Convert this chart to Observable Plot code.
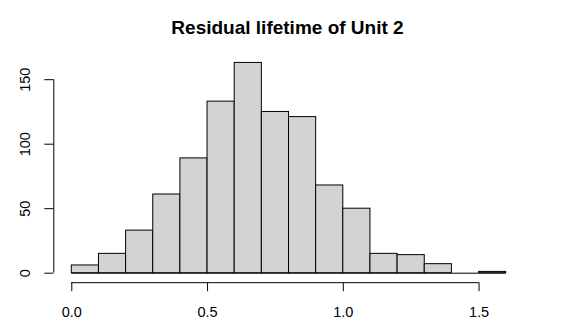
<!DOCTYPE html>
<html>
<head>
<meta charset="utf-8">
<script src="https://cdn.jsdelivr.net/npm/d3@7"></script>
<script src="https://cdn.jsdelivr.net/npm/@observablehq/plot@0.6"></script>
<style>
  html, body { margin: 0; padding: 0; background: #fff; }
  #wrap { position: relative; width: 577px; height: 336px; font-family: "Liberation Sans", Arial, sans-serif; }
  #title { position: absolute; left: 0; top: 16px; width: 575px; text-align: center; font-weight: bold; font-size: 19px; color: #000; line-height: 24px; }
</style>
</head>
<body>
<div id="wrap"><div id="title">Residual lifetime of Unit 2</div></div>
<script>
const binStarts = [0.0, 0.1, 0.2, 0.3, 0.4, 0.5, 0.6, 0.7, 0.8, 0.9, 1.0, 1.1, 1.2, 1.3, 1.4, 1.5];
const counts    = [6, 15, 33, 61, 89, 133, 163, 125, 121, 68, 50, 15, 14, 7, 0, 1];
const binWidth = 0.1;
const xTicks = [0, 0.5, 1.0, 1.5];
const yTicks = [0, 50, 100, 150];

const bins = binStarts.map((s, i) => ({x1: s, x2: +(s + binWidth).toFixed(2), count: counts[i]}));
const fmt = d3.format(".1f");

const chart = Plot.plot({
  width: 577,
  height: 336,
  marginLeft: 71.3,
  marginRight: 71.3,
  marginTop: 53.4,
  marginBottom: 63.3,
  style: {fontFamily: "Liberation Sans, Arial, sans-serif", fontSize: "14.5px", background: "transparent"},
  x: {domain: [0, 1.6], axis: null},
  y: {domain: [0, 170], axis: null},
  marks: [
    Plot.ruleY([0], {x1: 0, x2: 1.6, stroke: "#000", strokeWidth: 1}),
    Plot.rectY(bins, {x1: "x1", x2: "x2", y: "count", fill: "#d3d3d3", stroke: "#000", strokeWidth: 1}),
    // y axis (R style, offset)
    Plot.ruleX([0], {y1: 0, y2: 150, dx: -18, stroke: "#000"}),
    Plot.axisY({ticks: yTicks, tickSize: 9, dx: -18, tickFormat: () => "", label: null, stroke: "#000"}),
    Plot.text(yTicks, {y: d => d, x: 0, dx: -46.3, rotate: -90, text: d => String(d), fontSize: 14.5, fill: "#000", textAnchor: "middle", lineAnchor: "middle"}),
    // x axis (R style, offset)
    Plot.ruleY([0], {x1: 0, x2: 1.5, dy: 9.5, stroke: "#000"}),
    Plot.axisX({ticks: xTicks, tickSize: 9, dy: 9.5, tickFormat: () => "", label: null, stroke: "#000"}),
    Plot.text(xTicks, {x: d => d, y: 0, dy: 38.8, text: d => fmt(d), fontSize: 14.5, fill: "#000", textAnchor: "middle", lineAnchor: "middle"})
  ]
});
document.getElementById("wrap").appendChild(chart);
</script>
</body>
</html>
